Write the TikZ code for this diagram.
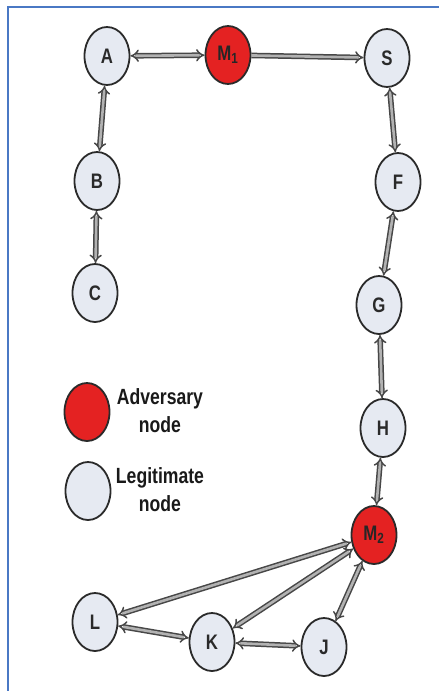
\documentclass[tikz,border=0pt]{standalone}
\usepackage{fontspec}
\setmainfont{Liberation Sans}[FakeStretch=0.8]
\usepackage{tikz}
\usetikzlibrary{arrows.meta}
\usetikzlibrary{shapes.geometric}

\definecolor{advred}{HTML}{E42222}
\definecolor{legfill}{HTML}{E6EAF2}
\definecolor{rim}{HTML}{2A2A2A}
\definecolor{framecol}{HTML}{4A78C4}

\tikzset{
	peer/.style = {ellipse, draw=rim, line width=1.8pt, fill=legfill, minimum width=45pt, minimum height=58pt, inner sep=0pt, font=\fontsize{21}{24}\selectfont\bfseries, text=rim},
	rogue/.style = {peer, fill=advred, text=black!85},
	link/.style = {draw=black!72, line width=1.5pt, double=black!30, double distance=2.6pt, {Implies}-{Implies}},
	oneway/.style = {link, -{Implies}},
	legtext/.style = {align=center, font=\fontsize{22}{28}\selectfont\bfseries, text=black!90}
}

\begin{document}
\begin{tikzpicture}[x=1pt, y=-1pt]
	\useasboundingbox (0,0) rectangle (439,691);
	\draw [framecol, line width=2pt] (8,691) -- (8,7) -- (439,7);

	% route through the network
	\node [peer] (A) at (107,56) {A};
	\node [rogue] (M1) at (228,55) {M\textsubscript{1}};
	\node [peer] (S) at (387,58) {S};
	\node [peer] (B) at (97,181) {B};
	\node [peer] (C) at (95,293) {C};
	\node [peer] (F) at (398,182) {F};
	\node [peer] (G) at (379,305) {G};
	\node [peer] (H) at (383,428) {H};
	\node [rogue] (M2) at (374,535) {M\textsubscript{2}};
	\node [peer] (L) at (95,622) {L};
	\node [peer] (K) at (212,642) {K};
	\node [peer] (J) at (324,647) {J};

	\draw [link] (A) -- (M1);
	\draw [oneway] (M1) -- (S);
	\draw [link] (A) -- (B);
	\draw [link] (B) -- (C);
	\draw [link] (S) -- (F);
	\draw [link] (F) -- (G);
	\draw [link] (G) -- (H);
	\draw [link] (H) -- (M2);
	\draw [link] (M2) -- (L);
	\draw [link] (M2) -- (K);
	\draw [link] (M2) -- (J);
	\draw [link] (L) -- (K);
	\draw [link] (K) -- (J);

	% legend
	\node [rogue] (advkey) at (87,412) {};
	\node [legtext] (advtxt) at (160,411) {Adversary\\node};
	\node [peer] (legkey) at (88,491) {};
	\node [legtext] (legtxt) at (160,490) {Legitimate\\node};
\end{tikzpicture}
\end{document}
